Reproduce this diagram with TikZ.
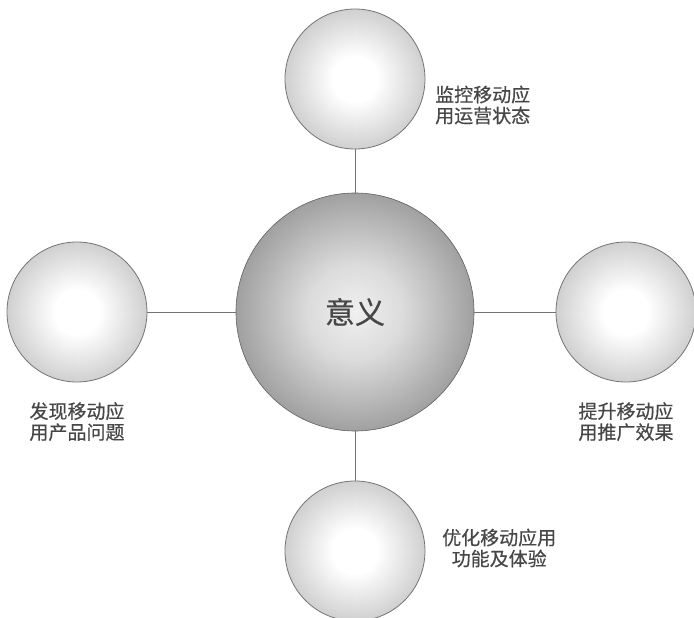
\documentclass[tikz,border=0pt]{standalone}
\usepackage{fontspec}
\newfontfamily\cjk[FakeBold=0.5]{Noto Sans CJK SC}
\usepackage{tikz}
\usetikzlibrary{positioning}
\pgfdeclareradialshading{smallball}{\pgfpoint{0bp}{0bp}}{color(0bp)=(white); color(8bp)=(white); color(30bp)=(black!24); color(50bp)=(black!45); color(100bp)=(black!45)}
\pgfdeclareradialshading{bigball}{\pgfpoint{0bp}{0bp}}{color(0bp)=(black!6); color(10bp)=(black!14); color(32bp)=(black!48); color(50bp)=(black!62); color(100bp)=(black!62)}
\tikzset{
  ball/.style={circle,draw=black!55,line width=0.8pt,shading=smallball,minimum size=140pt,inner sep=0pt,outer sep=0pt},
  core/.style={circle,draw=black!62,line width=0.6pt,shading=bigball,minimum size=238pt,inner sep=0pt,outer sep=0pt,font=\cjk\fontsize{30}{34}\selectfont,text=black!72},
  lbl/.style={font=\cjk\fontsize{19}{21}\selectfont,text=black!72,inner sep=0pt},
  conn/.style={draw=black!55,line width=0.8pt},
}
\begin{document}
\begin{tikzpicture}[x=1pt,y=-1pt]
  \useasboundingbox (0,0) rectangle (694,618);
  \node[core] (big) at (355,312) {意义};
  \node[ball,above=44pt of big] (top) {};
  \node[ball,left=89pt of big] (lft) {};
  \node[ball,right=82pt of big] (rgt) {};
  \node[ball,below=50pt of big] (bot) {};
  \draw[conn] (top) -- (big); \draw[conn] (lft) -- (big);
  \draw[conn] (rgt) -- (big); \draw[conn] (bot) -- (big);
  \node[lbl,align=left,right=10pt of top,yshift=-26pt] (ttop) {监控移动应\\用运营状态};
  \node[lbl,align=center,below=20pt of lft] (tlft) {发现移动应\\用产品问题};
  \node[lbl,align=center,below=20pt of rgt] (trgt) {提升移动应\\用推广效果};
  \node[lbl,align=center,right=17pt of bot,yshift=3pt] (tbot) {优化移动应用\\功能及体验};
\end{tikzpicture}
\end{document}
